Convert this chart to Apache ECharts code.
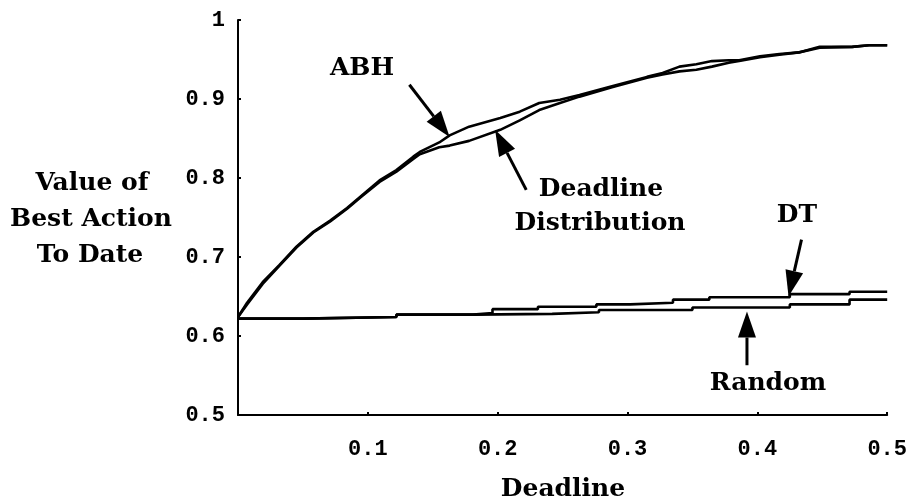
<!DOCTYPE html>
<html>
<head>
<meta charset="utf-8">
<script src="https://cdn.jsdelivr.net/npm/echarts@6/dist/echarts.min.js"></script>
<style>
html,body{margin:0;padding:0;background:#fff;}
#chart{width:910px;height:501px;}
</style>
</head>
<body>
<div id="chart"></div>
<script>
// ---- data ----
const xTickLabels = ['', '0.1', '0.2', '0.3', '0.4', '0.5'];
const yTickLabels = ['0.5', '0.6', '0.7', '0.8', '0.9', '1'];

const upperX = [0, 0.007, 0.019, 0.032, 0.045, 0.058, 0.071, 0.084, 0.094, 0.109, 0.122, 0.135, 0.140, 0.155, 0.163, 0.178, 0.202, 0.217, 0.232, 0.248, 0.263, 0.288, 0.315, 0.327, 0.340, 0.353, 0.365, 0.378, 0.386, 0.402, 0.417, 0.432, 0.448, 0.473, 0.486, 0.5];
const abhY = [0.624, 0.642, 0.668, 0.690, 0.713, 0.732, 0.746, 0.762, 0.776, 0.797, 0.810, 0.827, 0.833, 0.845, 0.854, 0.865, 0.876, 0.884, 0.895, 0.899, 0.905, 0.916, 0.928, 0.933, 0.941, 0.944, 0.948, 0.949, 0.949, 0.954, 0.957, 0.959, 0.966, 0.966, 0.968, 0.968];
const deadlineDistY = [0.624, 0.640, 0.666, 0.689, 0.712, 0.731, 0.745, 0.761, 0.775, 0.795, 0.808, 0.824, 0.830, 0.839, 0.841, 0.847, 0.861, 0.873, 0.886, 0.895, 0.903, 0.915, 0.927, 0.931, 0.935, 0.937, 0.941, 0.946, 0.948, 0.953, 0.956, 0.959, 0.965, 0.966, 0.968, 0.968];

const dtX = [0, 0.05, 0.122, 0.181, 0.196, 0.231, 0.276, 0.302, 0.335, 0.363, 0.425, 0.471, 0.5];
const dtY = [0.622, 0.624, 0.627, 0.629, 0.634, 0.637, 0.640, 0.642, 0.646, 0.649, 0.653, 0.656, 0.656];
const randomX = [0, 0.05, 0.122, 0.181, 0.242, 0.278, 0.350, 0.425, 0.471, 0.5];
const randomY = [0.622, 0.624, 0.627, 0.628, 0.630, 0.633, 0.636, 0.640, 0.646, 0.646];

// annotation arrows: [tailX, tailY, tipX, tipY] in data units
const arrowABH = [0.132, 0.918, 0.163, 0.852];
const arrowDD = [0.222, 0.785, 0.198, 0.861];
const arrowDT = [0.434, 0.722, 0.424, 0.650];
const arrowRandom = [0.392, 0.563, 0.392, 0.631];

const zip = (xs, ys) => xs.map((x, i) => [x, ys[i]]);

const chart = echarts.init(document.getElementById('chart'));
const serifFont = '"DejaVu Serif", serif';
const monoFont = '"Liberation Mono", "DejaVu Sans Mono", monospace';

const lineSeries = (name, data, step) => ({
  name, type: 'line', data, step: step || false,
  showSymbol: false, symbol: 'none', animation: false,
  lineStyle: { color: '#000', width: 2.6 }
});

chart.setOption({
  animation: false,
  backgroundColor: '#fff',
  grid: { left: 238, right: 22, top: 20, bottom: 86 },
  xAxis: {
    type: 'value', min: 0, max: 0.5, interval: 0.1,
    axisLine: { lineStyle: { color: '#000', width: 2 } },
    axisTick: { show: true, inside: true, length: 3, lineStyle: { color: '#000', width: 2 } },
    splitLine: { show: false },
    axisLabel: {
      margin: 23, color: '#000', fontFamily: monoFont, fontWeight: 'bold', fontSize: 22,
      formatter: (v) => xTickLabels[Math.round(v * 10)]
    }
  },
  yAxis: {
    type: 'value', min: 0.5, max: 1, interval: 0.1,
    axisLine: { show: true, lineStyle: { color: '#000', width: 2 } },
    axisTick: { show: true, inside: true, length: 3, lineStyle: { color: '#000', width: 2 } },
    splitLine: { show: false },
    axisLabel: {
      margin: 13, color: '#000', fontFamily: monoFont, fontWeight: 'bold', fontSize: 22,
      formatter: (v) => yTickLabels[Math.round((v - 0.5) * 10)]
    }
  },
  series: [
    lineSeries('ABH', zip(upperX, abhY)),
    lineSeries('Deadline Distribution', zip(upperX, deadlineDistY)),
    lineSeries('DT', zip(dtX, dtY), 'end'),
    lineSeries('Random', zip(randomX, randomY), 'end')
  ]
});

function arrowGraphics(a) {
  const p0 = chart.convertToPixel({ gridIndex: 0 }, [a[0], a[1]]);
  const p1 = chart.convertToPixel({ gridIndex: 0 }, [a[2], a[3]]);
  const dx = p1[0] - p0[0], dy = p1[1] - p0[1];
  const len = Math.sqrt(dx * dx + dy * dy);
  const ux = dx / len, uy = dy / len;
  const headLen = 26, headHalf = 9;
  const bx = p1[0] - ux * headLen, by = p1[1] - uy * headLen;
  const nx = -uy, ny = ux;
  return [
    { type: 'line', shape: { x1: p0[0], y1: p0[1], x2: bx, y2: by }, style: { stroke: '#000', lineWidth: 3 } },
    { type: 'polygon', shape: { points: [[p1[0], p1[1]], [bx + nx * headHalf, by + ny * headHalf], [bx - nx * headHalf, by - ny * headHalf]] }, style: { fill: '#000' } }
  ];
}

const txt = (text, x, y) => ({
  type: 'text', x, y,
  style: { text, fill: '#000', font: 'bold 25px ' + serifFont, textAlign: 'center', textVerticalAlign: 'middle' }
});

chart.setOption({
  graphic: [
    ...arrowGraphics(arrowABH),
    ...arrowGraphics(arrowDD),
    ...arrowGraphics(arrowDT),
    ...arrowGraphics(arrowRandom),
    txt('ABH', 362, 68),
    txt('Deadline', 601, 189),
    txt('Distribution', 600, 223),
    txt('DT', 797, 215),
    txt('Random', 768, 383),
    txt('Value of', 92, 183),
    txt('Best Action', 91, 219),
    txt('To Date', 90, 255),
    txt('Deadline', 563, 489)
  ]
});
</script>
</body>
</html>
